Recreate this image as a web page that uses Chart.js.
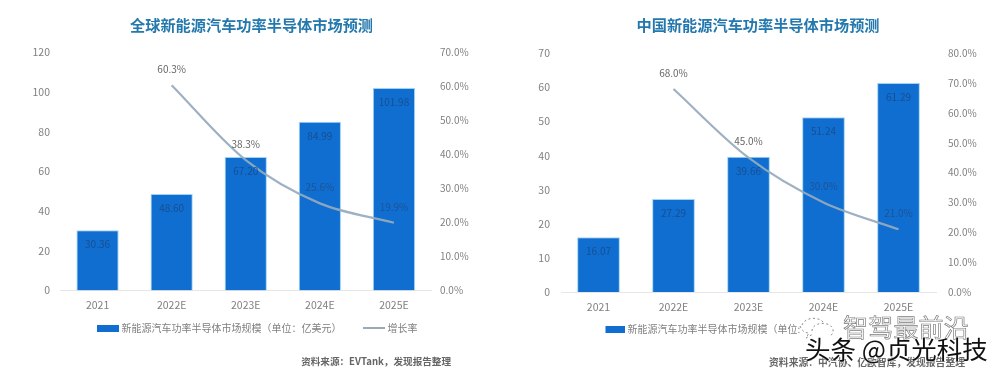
<!DOCTYPE html>
<html lang="zh"><head><meta charset="utf-8">
<script src="https://cdn.jsdelivr.net/npm/chart.js@4"></script>
<style>
html,body{margin:0;padding:0;background:#fff;width:1000px;height:372px;overflow:hidden}
canvas{position:absolute;top:0;filter:blur(.45px)}
#a{left:0}#b{left:500px}
.wm{position:absolute;white-space:nowrap;font-family:"Noto Sans CJK SC",sans-serif;line-height:1}
#wm1{left:843px;top:314px;font-size:25px;color:#fff;-webkit-text-stroke:.7px #7d7d7d;letter-spacing:.2px}
#wm2{left:805px;top:335px;font-size:25.5px;color:#111;text-shadow:0 0 2px #fff,0 0 2px #fff}
#ic{position:absolute;left:798px;top:314px}
</style></head><body>
<canvas id="a" width="500" height="372"></canvas>
<canvas id="b" width="500" height="372"></canvas>
<svg id="ic" width="44" height="26" viewBox="0 0 44 26" fill="none" stroke="#8a8a8a" stroke-width="1" stroke-dasharray="2 2.5"><path d="M4 11c3-8 17-9 22-2M2 12c2 5 5 7 9 7l-3 5 7-4"/><path d="M14 17c0-6 8-9 15-7s8 9 3 12"/></svg>
<div class="wm" id="wm1">智驾最前沿</div>
<div class="wm" id="wm2">头条 @贞光科技</div>
<script>
const categories = ["2021","2022E","2023E","2024E","2025E"];
const globalTitle = "全球新能源汽车功率半导体市场预测";
const chinaTitle = "中国新能源汽车功率半导体市场预测";
const globalMarket = [30.36,48.60,67.20,84.99,101.98];
const globalGrowth = [null,60.3,38.3,25.6,19.9];
const chinaMarket = [16.07,27.29,39.66,51.24,61.29];
const chinaGrowth = [null,68.0,45.0,30.0,21.0];
const globalBarName = "新能源汽车功率半导体市场规模（单位：亿美元）";
const chinaBarName = "新能源汽车功率半导体市场规模（单位:";
const growthName = "增长率";
const globalSource = "资料来源：EVTank，发现报告整理";
const chinaSource = "资料来源：中汽协、亿欧智库，发现报告整理";

const CJK = '"Noto Sans CJK SC","Noto Sans",sans-serif';
const BAR = '#0f6ecf', LINE = 'rgba(150,170,190,.92)';

function swatch(w,h,c){const k=document.createElement('canvas');k.width=w;k.height=h;const x=k.getContext('2d');x.fillStyle=c;x.fillRect(0,0,w,h);return k;}

function build(id,cfg){
  const place = {
    id:'place',
    afterLayout(chart){
      const l=chart.legend;
      const w=l.right-l.left;
      l.left=cfg.legendX; l.right=cfg.legendX+w;
      const h=l.bottom-l.top;
      l.top=cfg.legendY; l.bottom=cfg.legendY+h;
      const t=chart.titleBlock;
      t.left+=cfg.titleShift; t.right+=cfg.titleShift;
    },
    afterDatasetsDraw(chart){
      const c=chart.ctx, bars=chart.getDatasetMeta(0).data, pts=chart.getDatasetMeta(1).data;
      c.save();c.textAlign='center';c.textBaseline='middle';c.font='10px '+CJK;
      cfg.market.forEach((v,i)=>{c.fillStyle='#184f92';c.fillText(v.toFixed(2),bars[i].x,bars[i].y+14);});
      cfg.growth.forEach((v,i)=>{
        if(v===null)return;
        const y=pts[i].y-16;
        c.fillStyle=y<bars[i].y-4?'#666':'#1d5496';
        c.fillText(v.toFixed(1)+'%',pts[i].x,y);
      });
      c.font='bold '+cfg.sourceSize+'px '+CJK;c.fillStyle='#666';c.textAlign='right';
      c.fillText(cfg.source,cfg.sourceX,cfg.sourceY);
      c.restore();
    }
  };
  return new Chart(document.getElementById(id),{
    data:{labels:categories,datasets:[
      {type:'bar',label:cfg.barName,data:cfg.market,yAxisID:'y',order:2,backgroundColor:BAR,borderColor:'#9ed3f3',borderWidth:{left:1,right:1,top:1,bottom:0},barPercentage:.57,categoryPercentage:1},
      {type:'line',label:growthName,data:cfg.growth,yAxisID:'y1',order:1,borderColor:LINE,borderWidth:2.2,pointRadius:0,tension:.32,spanGaps:false}
    ]},
    options:{
      responsive:false,animation:false,
      layout:{padding:{left:cfg.padL,right:cfg.padR,top:0,bottom:cfg.padB}},
      plugins:{
        tooltip:{enabled:false},
        title:{display:true,text:cfg.title,color:'#2378ad',font:{family:CJK,size:15.2,weight:'bold'},padding:{top:cfg.titleTop,bottom:cfg.titleBottom}},
        legend:{position:'bottom',align:'start',fullSize:true,
          labels:{usePointStyle:true,pointStyleWidth:17,padding:cfg.legendGap,color:'#808080',font:{family:CJK,size:10},
            filter:cfg.legendFilter,
            generateLabels(ch){return ch.data.datasets.map((d,i)=>({text:d.label,datasetIndex:i,fontColor:'#808080',lineWidth:0,strokeStyle:'transparent',fillStyle:'transparent',
              pointStyle:i===0?swatch(22,7,BAR):swatch(22,2,'#9aaab8')}));}
          }}
      },
      scales:{
        x:{grid:{display:false},border:{color:'#e6e6e6'},ticks:{color:'#808080',font:{family:CJK,size:10.5},padding:.5},afterFit(s){s.height=34;}},
        y:{position:'left',min:0,max:cfg.yMax,grid:{display:false},border:{display:false},
           ticks:{stepSize:cfg.yStep,color:'#808080',font:{family:CJK,size:10.5},padding:cfg.tickL},afterFit(s){s.width=cfg.axisL;}},
        y1:{position:'right',min:0,max:cfg.y1Max,grid:{display:false},border:{display:false},
           ticks:{stepSize:10,color:'#808080',font:{family:CJK,size:10},padding:cfg.tickR,callback:v=>v.toFixed(1)+'%'},afterFit(s){s.width=cfg.axisR;}}
      }
    },
    plugins:[place]
  });
}

build('a',{title:globalTitle,market:globalMarket,growth:globalGrowth,barName:globalBarName,source:globalSource,sourceSize:9.6,
  yMax:120,yStep:20,y1Max:70,padL:20,padR:19,axisL:40.5,axisR:50,tickL:2.5,tickR:1,legendGap:24,padB:3.5,titleTop:16,titleBottom:18,titleShift:1,
  legendX:75.5,legendY:299,sourceX:451,sourceY:361});
build('b',{title:chinaTitle,market:chinaMarket,growth:chinaGrowth,barName:chinaBarName,source:chinaSource,sourceSize:9.8,
  legendFilter:it=>it.datasetIndex===0,
  yMax:70,yStep:10,y1Max:80,padL:20,padR:14,axisL:41,axisR:50,tickL:3,tickR:4,legendGap:0,padB:26,titleTop:16,titleBottom:19,titleShift:5,
  legendX:105.5,legendY:324,sourceX:465,sourceY:362});
</script>
</body></html>
